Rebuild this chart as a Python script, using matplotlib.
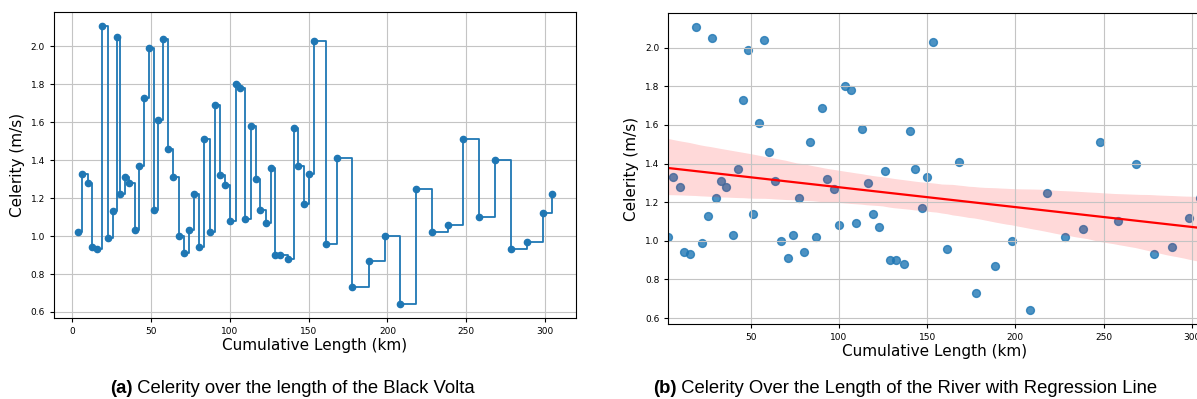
import matplotlib
matplotlib.use('Agg')
import matplotlib.pyplot as plt
import numpy as np
import seaborn as sns

# cumulative distance along the Black Volta (km) and measured wave celerity (m/s)
length_km = np.array([
    3.4, 6.3, 9.9, 12.2, 15.6, 19.0, 22.5, 25.7, 28.4, 30.3,
    33.3, 36.2, 40.0, 42.6, 45.7, 48.5, 51.6, 54.6, 57.7, 60.5,
    63.8, 67.4, 71.0, 73.9, 77.5, 80.5, 83.8, 87.2, 90.4, 93.5,
    97.1, 100.1, 103.6, 106.6, 109.5, 113.1, 116.7, 119.4, 123.0, 126.0,
    128.9, 132.1, 136.7, 140.5, 143.2, 147.3, 150.0, 153.2, 161.0, 168.1,
    177.6, 188.4, 198.3, 208.0, 217.9, 228.0, 238.4, 248.1, 258.2, 268.4,
    278.5, 288.6, 298.5, 304.6])
celerity = np.array([
    1.02, 1.33, 1.28, 0.94, 0.93, 2.11, 0.99, 1.13, 2.05, 1.22,
    1.31, 1.28, 1.03, 1.37, 1.73, 1.99, 1.14, 1.61, 2.04, 1.46,
    1.31, 1.00, 0.91, 1.03, 1.22, 0.94, 1.51, 1.02, 1.69, 1.32,
    1.27, 1.08, 1.80, 1.78, 1.09, 1.58, 1.30, 1.14, 1.07, 1.36,
    0.90, 0.90, 0.88, 1.57, 1.37, 1.17, 1.33, 2.03, 0.96, 1.41,
    0.73, 0.87, 1.00, 0.64, 1.25, 1.02, 1.06, 1.51, 1.10, 1.40,
    0.93, 0.97, 1.12, 1.22])

plt.rcParams['font.size'] = 6.5
plt.rcParams['xtick.major.size'] = 3
plt.rcParams['ytick.major.size'] = 3
plt.rcParams['grid.color'] = '#c4c4c4'

fig = plt.figure(figsize=(11.97, 3.99), dpi=100)
ax1 = fig.add_axes([0.0451, 0.2023, 0.4361, 0.7684])
ax2 = fig.add_axes([0.5583, 0.188, 0.4443, 0.7794])

# step profile along the river
ax1.step(length_km, celerity, where='post', marker='o', markersize=4.5,
         linewidth=1.3, color='#1f77b4')
ax1.grid(True)
ax1.set_xlabel('Cumulative Length (km)', fontsize=11, labelpad=1.5)
ax1.set_ylabel('Celerity (m/s)', fontsize=11)

# scatter with linear fit and confidence band
sns.regplot(x=length_km, y=celerity, ax=ax2, color='#1f77b4',
            scatter_kws={'s': 32}, line_kws={'color': 'red', 'lw': 1.6}, seed=1)
ax2.set_xlim(length_km.min(), length_km.max())
ax2.set_ylim(0.569, 2.18)
ax2.grid(True)
ax2.set_xlabel('Cumulative Length (km)', fontsize=11, labelpad=1.5)
ax2.set_ylabel('Celerity (m/s)', fontsize=11)

# sub-captions: bold tag followed by regular text
captions = [(110 / 1197, '(a)', ' Celerity over the length of the Black Volta'),
            (653 / 1197, '(b)', ' Celerity Over the Length of the River with Regression Line')]
renderer = fig.canvas.get_renderer()
for x0, tag, rest in captions:
    t = fig.text(x0, 0.027, tag, fontsize=13.3, fontweight='bold',
                 family='Liberation Sans', ha='left', va='center')
    bb = t.get_window_extent(renderer=renderer)
    fig.text(bb.x1 / fig.bbox.width, 0.027, rest, fontsize=13.3,
             family='Liberation Sans', ha='left', va='center')

fig.savefig('out.png', dpi=100)
